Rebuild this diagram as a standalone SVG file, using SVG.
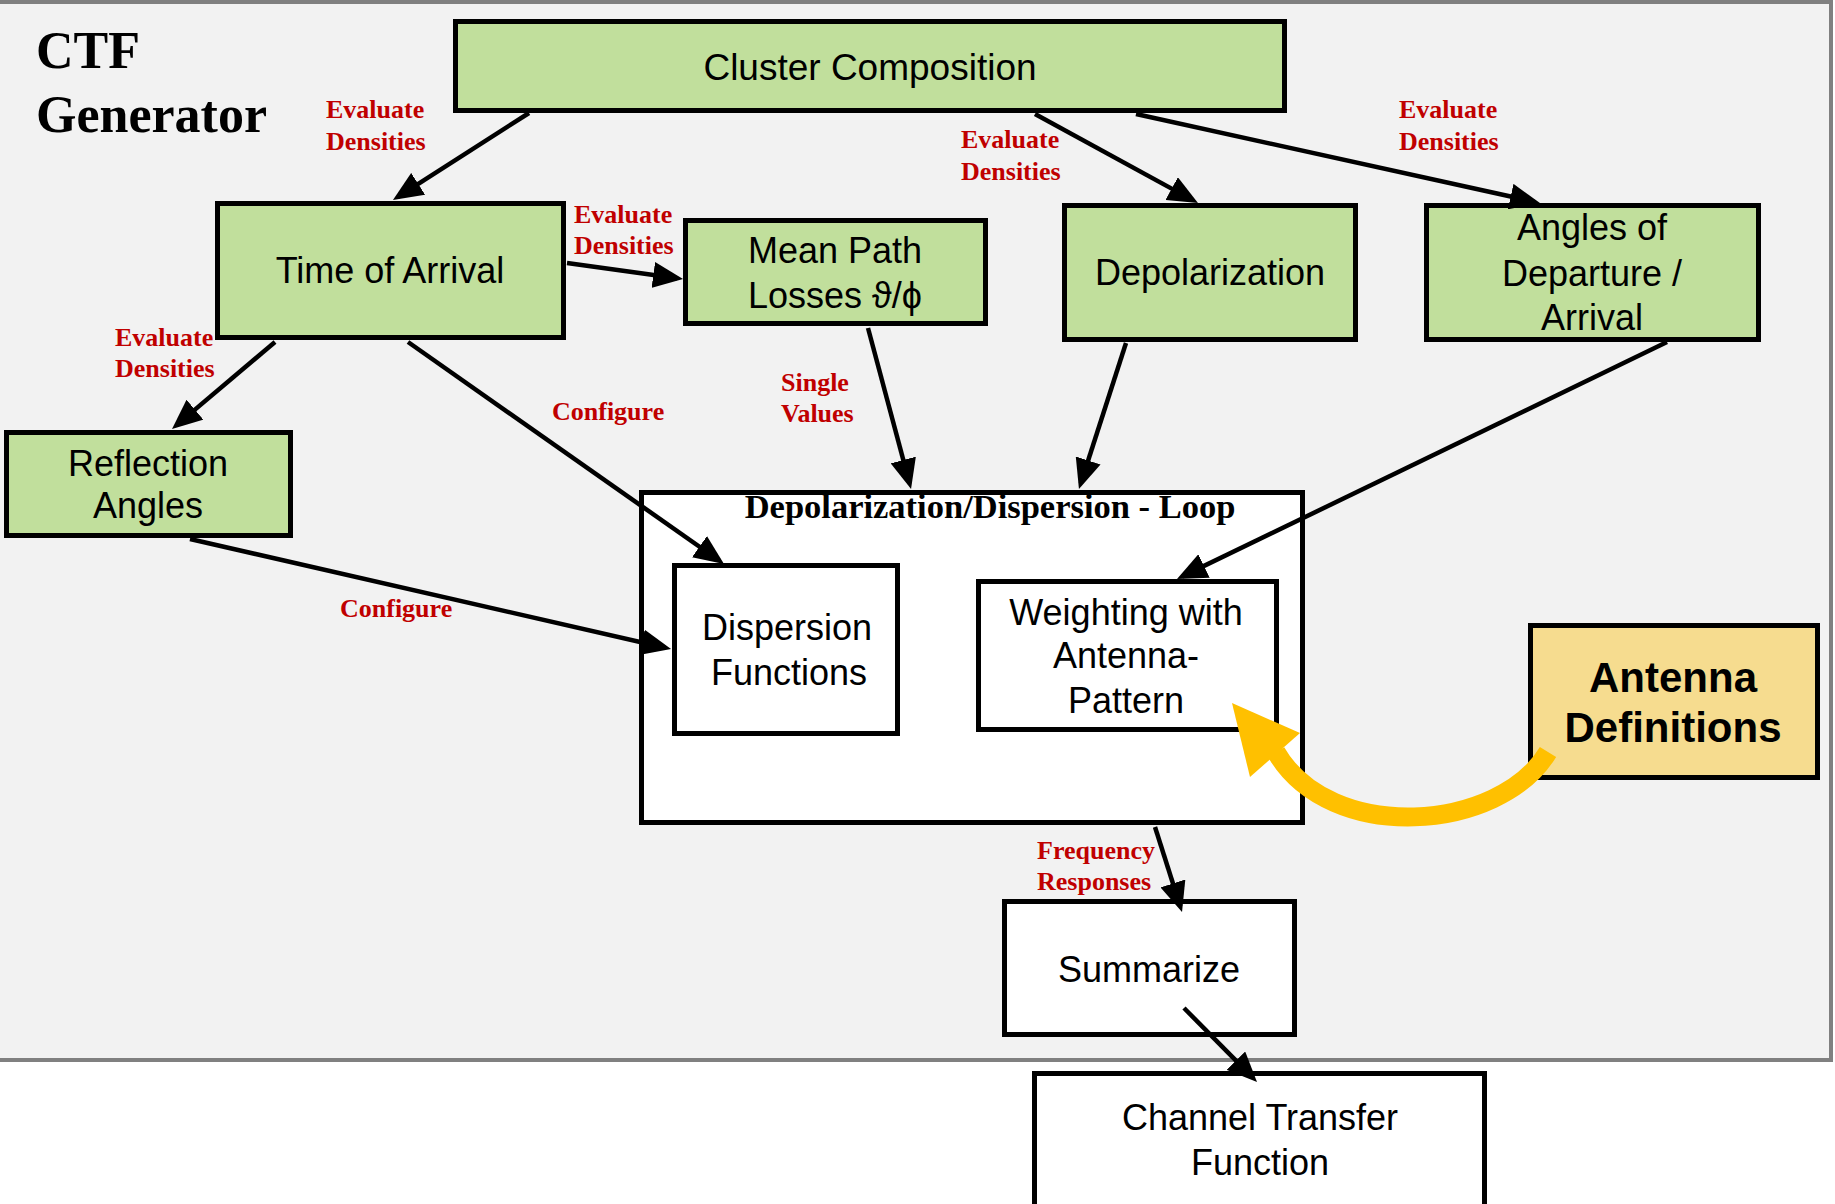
<svg xmlns="http://www.w3.org/2000/svg" width="1835" height="1204" viewBox="0 0 1835 1204">
<style>
.node{stroke:#000;stroke-width:5}
.green{fill:#c1df9c}
.white{fill:#fff}
.gold{fill:#f6dc8f}
.t{font-family:"Liberation Sans",Arial,sans-serif;font-size:36px;fill:#000;text-anchor:middle}
.tb{font-family:"Liberation Sans",Arial,sans-serif;font-size:42px;font-weight:bold;fill:#000;text-anchor:middle}
.lbl{font-family:"Liberation Serif","Times New Roman",serif;font-size:26px;font-weight:bold;fill:#c00000}
.edge{stroke:#000;stroke-width:4.5;fill:none;marker-end:url(#ah)}
</style>
<defs>
<marker id="ah" markerUnits="userSpaceOnUse" markerWidth="30" markerHeight="26" viewBox="0 0 30 26" refX="24" refY="13" orient="auto">
<path d="M0,0 L30,13 L0,26 z" fill="#000"/>
</marker>
</defs>
<rect x="-5" y="2" width="1836" height="1058" fill="#f2f2f2" stroke="#808080" stroke-width="4"/>
<text x="36" y="68" style="font-family:'Liberation Serif','Times New Roman',serif;font-size:52px;font-weight:bold;fill:#000">CTF</text>
<text x="36" y="132" style="font-family:'Liberation Serif','Times New Roman',serif;font-size:52px;font-weight:bold;fill:#000">Generator</text>
<g id="nodes">
<g id="cluster"><rect class="node green" x="455.5" y="21.5" width="829" height="89"/><text class="t" x="870" y="80" style="font-size:37px">Cluster Composition</text></g>
<g id="toa"><rect class="node green" x="217.5" y="203.5" width="346" height="134"/><text class="t" x="390" y="283">Time of Arrival</text></g>
<g id="meanpath"><rect class="node green" x="685.5" y="220.5" width="300" height="103"/><text class="t" x="835" y="263">Mean Path</text><text class="t" x="835" y="308">Losses ϑ/ϕ</text></g>
<g id="depol"><rect class="node green" x="1064.5" y="205.5" width="291" height="134"/><text class="t" x="1210" y="285">Depolarization</text></g>
<g id="angles"><rect class="node green" x="1426.5" y="205.5" width="332" height="134"/><text class="t" x="1592" y="240">Angles of</text><text class="t" x="1592" y="286">Departure /</text><text class="t" x="1592" y="330">Arrival</text></g>
<g id="reflection"><rect class="node green" x="6.5" y="432.5" width="284" height="103"/><text class="t" x="148" y="476">Reflection</text><text class="t" x="148" y="518">Angles</text></g>
<g id="loop"><rect class="node white" x="641.5" y="492.5" width="661" height="330"/><text x="990" y="518" style="font-family:'Liberation Serif','Times New Roman',serif;font-size:34.5px;font-weight:bold;fill:#000;text-anchor:middle">Depolarization/Dispersion - Loop</text></g>
<g id="dispersion"><rect class="node white" x="674.5" y="565.5" width="223" height="168"/><text class="t" x="787" y="640">Dispersion</text><text class="t" x="789" y="685">Functions</text></g>
<g id="weighting"><rect class="node white" x="978.5" y="581.5" width="298" height="148"/><text class="t" x="1126" y="625">Weighting with</text><text class="t" x="1126" y="668">Antenna-</text><text class="t" x="1126" y="713">Pattern</text></g>
<g id="antenna"><rect class="node gold" x="1530.5" y="625.5" width="287" height="152"/><text class="tb" x="1673" y="692">Antenna</text><text class="tb" x="1673" y="742">Definitions</text></g>
<g id="summarize"><rect class="node white" x="1004.5" y="901.5" width="290" height="133"/><text class="t" x="1149" y="982">Summarize</text></g>
<g id="ctf"><rect class="node white" x="1034.5" y="1073.5" width="450" height="200"/><text class="t" x="1260" y="1130">Channel Transfer</text><text class="t" x="1260" y="1175">Function</text></g>
</g>
<g id="connectors">
<line class="edge" x1="529" y1="113" x2="398" y2="196.8"/>
<line class="edge" x1="567" y1="263" x2="677.1" y2="278.2"/>
<line class="edge" x1="275" y1="342" x2="176.6" y2="425.1"/>
<line class="edge" x1="408" y1="342" x2="719.1" y2="560.5"/>
<line class="edge" x1="190" y1="539" x2="665.2" y2="647.7"/>
<line class="edge" x1="868" y1="328" x2="909.5" y2="483.2"/>
<line class="edge" x1="1126" y1="343" x2="1080.8" y2="483.3"/>
<line class="edge" x1="1035" y1="114" x2="1192.7" y2="200.1"/>
<line class="edge" x1="1136" y1="114" x2="1534.1" y2="201.7"/>
<line class="edge" x1="1667" y1="342" x2="1182.4" y2="576.4"/>
<line class="edge" x1="1155" y1="827" x2="1180.2" y2="906.3"/>
<line class="edge" x1="1184" y1="1008" x2="1252.8" y2="1077.7"/>
<path d="M1548,752 C1500,832 1330,845 1276,752" fill="none" stroke="#ffc000" stroke-width="19"/>
<polygon points="1232,703 1250,777 1300,733" fill="#ffc000"/>
<text class="lbl" x="326" y="118">Evaluate</text><text class="lbl" x="326" y="150">Densities</text>
<text class="lbl" x="574" y="223">Evaluate</text><text class="lbl" x="574" y="254">Densities</text>
<text class="lbl" x="115" y="346">Evaluate</text><text class="lbl" x="115" y="377">Densities</text>
<text class="lbl" x="552" y="420">Configure</text>
<text class="lbl" x="340" y="617">Configure</text>
<text class="lbl" x="781" y="391">Single</text><text class="lbl" x="781" y="422">Values</text>
<text class="lbl" x="961" y="148">Evaluate</text><text class="lbl" x="961" y="180">Densities</text>
<text class="lbl" x="1399" y="118">Evaluate</text><text class="lbl" x="1399" y="150">Densities</text>
<text class="lbl" x="1037" y="859">Frequency</text><text class="lbl" x="1037" y="890">Responses</text>
</g>
</svg>
